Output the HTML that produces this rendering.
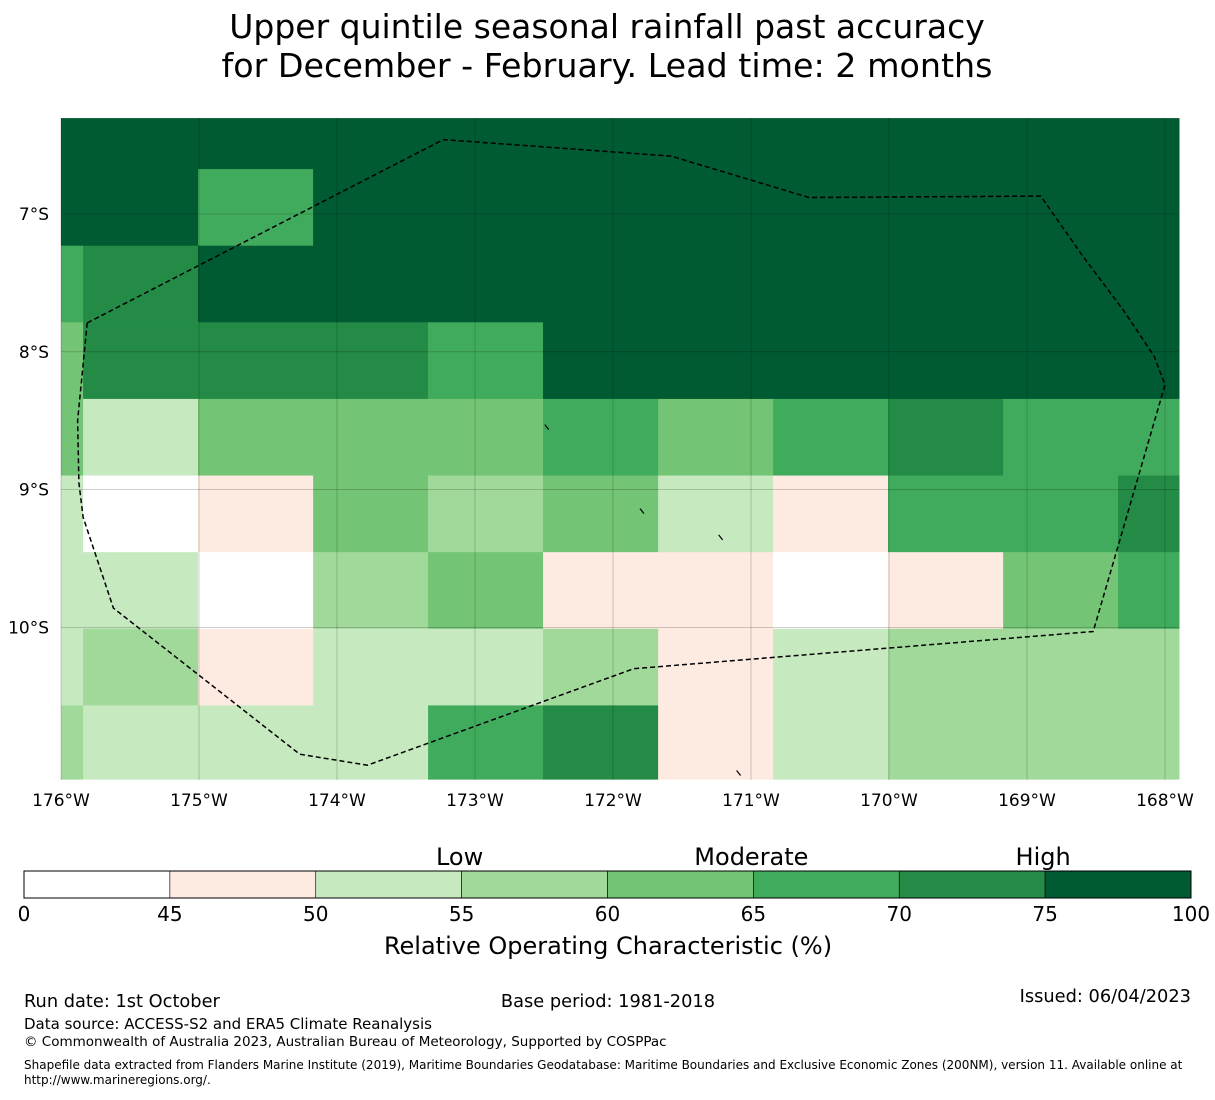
<!DOCTYPE html>
<html><head><meta charset="utf-8"><style>
body{margin:0;background:#fff;font-family:"Liberation Sans","DejaVu Sans",sans-serif}
svg text{font-family:"DejaVu Sans","Liberation Sans",sans-serif}
</style></head><body>
<svg id="chart" width="1215" height="1095" xmlns="http://www.w3.org/2000/svg">
<text x="607" y="38" font-size="33" text-anchor="middle">Upper quintile seasonal rainfall past accuracy</text>
<text x="607" y="77" font-size="33.3" text-anchor="middle">for December - February. Lead time: 2 months</text>
<g id="map"></g>
<g id="cbar"></g>
<text x="24" y="1007" font-size="17.8">Run date: 1st October</text>
<text x="608" y="1007" font-size="17.8" text-anchor="middle">Base period: 1981-2018</text>
<text x="1191" y="1002" font-size="17.8" text-anchor="end">Issued: 06/04/2023</text>
<text x="24" y="1029" font-size="15">Data source: ACCESS-S2 and ERA5 Climate Reanalysis</text>
<text x="24" y="1046" font-size="13.5">© Commonwealth of Australia 2023, Australian Bureau of Meteorology, Supported by COSPPac</text>
<text x="24" y="1069" font-size="12">Shapefile data extracted from Flanders Marine Institute (2019), Maritime Boundaries Geodatabase: Maritime Boundaries and Exclusive Economic Zones (200NM), version 11. Available online at</text>
<text x="24" y="1084" font-size="12">http://www.marineregions.org/.</text>
</svg>
<script>
// ---- data ----
const lonEdges = [-176.0,-175.84,-175.007,-174.173,-173.34,-172.507,-171.673,-170.84,-170.007,-169.173,-168.34,-167.89];
const latEdges = [-6.304,-6.674,-7.23,-7.786,-8.342,-8.898,-9.454,-10.01,-10.566,-11.101];
// ROC values (%) per cell, rows top->bottom, cols west->east
const rocValues = [
 [80,80,80,80,80,80,80,80,80,80,80],
 [80,80,67,80,80,80,80,80,80,80,80],
 [67,72,80,80,80,80,80,80,80,80,80],
 [62,72,72,72,67,80,80,80,80,80,80],
 [62,52,62,62,62,67,62,67,72,67,67],
 [52,30,47,62,57,62,52,47,67,67,72],
 [52,52,30,57,62,47,47,30,47,62,67],
 [52,57,47,52,52,57,47,52,57,57,57],
 [57,52,52,52,67,72,47,52,57,57,57]
];
const cbarBounds = [0,45,50,55,60,65,70,75,100];
const cbarColors = ["#ffffff","#fdeae1","#c7e9c0","#a1d99b","#74c476","#41ab5d","#238b45","#005a32"];
const lonTicks = [-176,-175,-174,-173,-172,-171,-170,-169,-168];
const lonLabels = ["176°W","175°W","174°W","173°W","172°W","171°W","170°W","169°W","168°W"];
const latTicks = [-7,-8,-9,-10];
const latLabels = ["7°S","8°S","9°S","10°S"];
const categoryLabels = ["Low","Moderate","High"];
const categoryPos = [55,65,75];
const eezLon = [-175.81,-173.23,-171.58,-170.58,-168.9,-168.6,-168.3,-168.08,-168.0,-168.52,-171.85,-173.78,-174.27,-175.62,-175.84,-175.87,-175.88,-175.81];
const eezLat = [-7.79,-6.46,-6.58,-6.88,-6.87,-7.3,-7.7,-8.03,-8.24,-10.03,-10.3,-11.0,-10.92,-9.86,-9.2,-8.95,-8.5,-7.79];
const islandLon = [-172.48,-171.79,-171.22,-171.09];
const islandLat = [-8.55,-9.16,-9.35,-11.06];

const NS="http://www.w3.org/2000/svg";
const X0=61,X1=1179,Y0=118,Y1=780;
function xOf(lon){return 61+(lon+176)*138.0;}
function yOf(lat){return 214+(-7-lat)*137.8;}
function colorOf(v){for(let i=0;i<cbarBounds.length-1;i++){if(v<cbarBounds[i+1])return cbarColors[i];}return cbarColors[cbarColors.length-1];}
function mk(tag,attrs,parent){const e=document.createElementNS(NS,tag);for(const k in attrs)e.setAttribute(k,attrs[k]);parent.appendChild(e);return e;}
const map=document.getElementById('map');
rocValues.forEach((row,r)=>row.forEach((v,c)=>{
  const x=xOf(lonEdges[c]),x2=xOf(lonEdges[c+1]),y=yOf(latEdges[r]),y2=yOf(latEdges[r+1]);
  const e=mk('rect',{x:Math.max(X0,x),y:Math.max(Y0,y),width:Math.min(X1,x2)-Math.max(X0,x)+0.5,height:Math.min(Y1,y2)-Math.max(Y0,y)+0.5,fill:colorOf(v)},map);
  
  
}));
lonTicks.forEach((t,i)=>{
  const x=xOf(t);
  const l=mk('line',{x1:x,x2:x,y1:Y0,y2:Y1,stroke:"#000","stroke-opacity":0.3,"stroke-width":0.6},map);
  
  
  const tx=mk('text',{x:x,y:806,"font-size":17,"text-anchor":"middle"},map);
  tx.textContent=lonLabels[i];
  
  
});
latTicks.forEach((t,i)=>{
  const y=yOf(t);
  const l=mk('line',{x1:X0,x2:X1,y1:y,y2:y,stroke:"#000","stroke-opacity":0.3,"stroke-width":0.6},map);
  
  
  const tx=mk('text',{x:49,y:y+6,"font-size":17,"text-anchor":"end"},map);
  tx.textContent=latLabels[i];
  
  
});
islandLon.forEach((lo,i)=>{
  const x=xOf(lo),y=yOf(islandLat[i]);
  const l=mk('line',{x1:x-2,x2:x+2,y1:y-3,y2:y+2,stroke:"#000","stroke-width":1.2},map);
  
  
});
const pts=eezLon.map((lo,i)=>xOf(lo).toFixed(1)+","+yOf(eezLat[i]).toFixed(1)).join(" ");
const eez=mk('polyline',{points:pts,fill:"none",stroke:"#000","stroke-width":1.5,"stroke-dasharray":"5,3"},map);


// colorbar
const cb=document.getElementById('cbar');
const CX0=24,CX1=1191,CY=871,CH=27,segW=(CX1-CX0)/(cbarColors.length);
cbarColors.forEach((col,i)=>{
  const r=mk('rect',{x:CX0+i*segW,y:CY,width:segW,height:CH,fill:col,stroke:"#000","stroke-width":0.6},cb);
  
  
});
cbarBounds.forEach((b,i)=>{
  const tx=mk('text',{x:CX0+i*segW,y:921,"font-size":20,"text-anchor":"middle"},cb);
  tx.textContent=String(b);
  
  
});
categoryLabels.forEach((lab,i)=>{
  const idx=cbarBounds.indexOf(categoryPos[i]);
  const tx=mk('text',{x:CX0+idx*segW-2,y:865,"font-size":24,"text-anchor":"middle"},cb);
  tx.textContent=lab;
  
  
});
mk('rect',{x:CX0,y:CY,width:CX1-CX0,height:CH,fill:"none",stroke:"#000","stroke-width":1},cb);
const ct=mk('text',{x:608,y:954,"font-size":24,"text-anchor":"middle"},cb);
ct.textContent="Relative Operating Characteristic (%)";


</script>
</body></html>
